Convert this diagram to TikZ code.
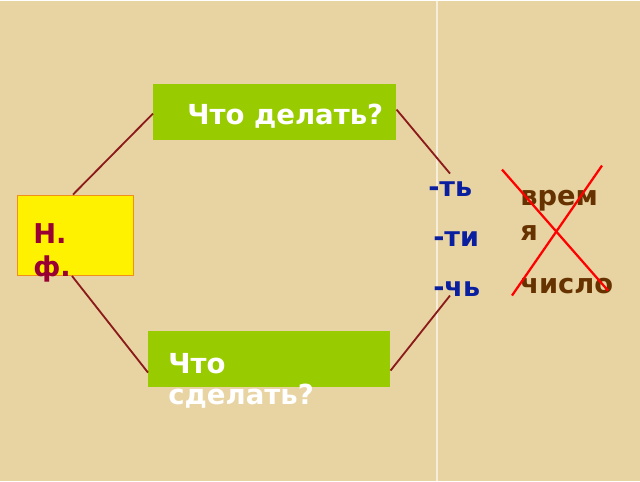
\documentclass[tikz,border=0pt]{standalone}
\usepackage{fontspec}
\setmainfont{DejaVu Sans}
\usetikzlibrary{positioning}
\definecolor{papyrus}{HTML}{E8D3A2}
\definecolor{leafgreen}{HTML}{99CC00}
\definecolor{linkred}{HTML}{8B1A1A}
\definecolor{formred}{HTML}{990033}
\definecolor{endblue}{HTML}{0A1FA0}
\definecolor{wordbrown}{HTML}{663300}
\definecolor{frameorange}{HTML}{F0901A}
\tikzset{question/.style = {fill=leafgreen, minimum width=243*0.025cm, minimum height=56*0.025cm, inner sep=0pt},
         qtext/.style = {text=white, font=\bfseries\fontsize{19.6}{21.5}\selectfont, inner sep=0pt},
         ending/.style = {text=endblue, font=\bfseries\fontsize{19.2}{20}\selectfont, inner sep=0pt, anchor=west},
         struck/.style = {text=wordbrown, font=\bfseries\fontsize{19.4}{25}\selectfont, inner sep=0pt, anchor=west, align=left},
         link/.style = {draw=linkred, line width=1.3pt}}

\begin{document}
\begin{tikzpicture}[x=0.025cm, y=-0.025cm]
\fill[papyrus] (0,0) rectangle (640,480);
\draw[white!60!papyrus, line width=0.8pt] (437,0) -- (437,480);
% boxes
\node[question, anchor=north west] (doing) at (153,83) {};
\node[question, anchor=north west, minimum width=242*0.025cm] (done) at (148,330) {};
\node[draw=frameorange, fill=yellow, line width=1pt, minimum width=116*0.025cm, minimum height=80*0.025cm, anchor=north west] (nf) at (17,194) {};
% texts
\node[qtext, anchor=west] (doingtext) at (187,116) {Что делать?};
\node[qtext, anchor=north west, align=left] (donetext) at (168,353) {Что\\сделать?};
\node[anchor=north west, inner sep=0pt, align=left, text=formred, font=\bfseries\fontsize{19.4}{23.5}\selectfont] (nftext) at (33,223) {Н.\\ф.};
\node[ending] (ty) at (428,189) {-ть};
\node[ending] (ti) at (433,239) {-ти};
\node[ending] (chy) at (433,289) {-чь};
\node[struck, anchor=north west] (time) at (520,189) {врем\\я};
\node[struck] (number) at (520,285) {число};
% connectors
\coordinate (tytop) at (450,173);
\coordinate (chytop) at (450,295);
\draw[link] (doing.west |- 0,113) -- (nf.north -| 73,0);
\draw[link] (doing.east |- 0,109) -- (tytop);
\draw[link] (nf.south -| 72,0) -- (done.west |- 0,372);
\draw[link] (done.east |- 0,370) -- (chytop);
% cross
\draw[red, line width=1.6pt] (502,169) -- (608,290);
\draw[red, line width=1.6pt] (602,165) -- (512,295);
\end{tikzpicture}
\end{document}
